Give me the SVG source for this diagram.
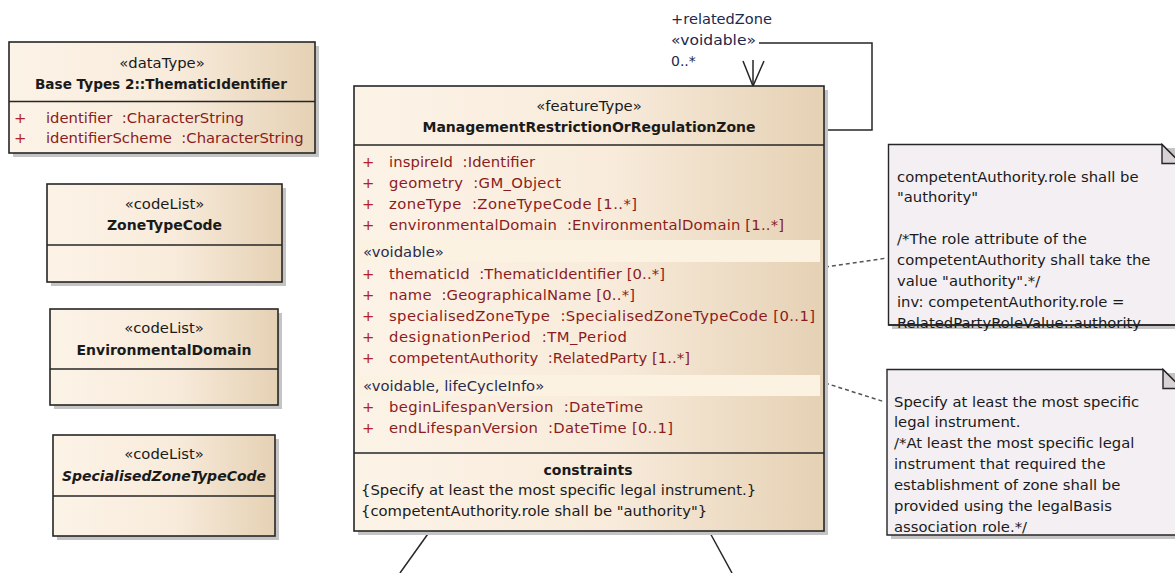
<svg xmlns="http://www.w3.org/2000/svg" width="1175" height="573" viewBox="0 0 1175 573">
<defs>
<linearGradient id="cls" x1="0" y1="0" x2="1" y2="0">
<stop offset="0" stop-color="#fcf3e7"/>
<stop offset="0.55" stop-color="#f8ebdb"/>
<stop offset="1" stop-color="#e5d1b4"/>
</linearGradient>
<style>
.sh{fill:#c4c4c4}
.box{fill:url(#cls);stroke:#262626;stroke-width:1.6}
.dv{stroke:#262626;stroke-width:1.6;fill:none}
.note{fill:#f3eff3;stroke:#262626;stroke-width:1.4}
.fold{fill:#d6d2d6;stroke:#262626;stroke-width:1.4}
.bar{fill:#fcf2e2}
text{font-family:"DejaVu Sans",sans-serif;font-size:14.8px;fill:#1a1a1a;white-space:pre}
.c{text-anchor:middle}
.b{font-weight:bold;font-size:14px}
.i{font-style:italic}
.at{fill:#8b1c1c}
.pl{fill:#b42222}
.sv{fill:#2a2a4e}
.lb{font-size:14px;fill:#22284a}
.cn{stroke:#262626;stroke-width:1.5;fill:none}
.dash{stroke:#555;stroke-width:1.5;stroke-dasharray:4 3;fill:none}
</style>
</defs>

<g id="connectors">
<path class="cn" d="M824,130 H872 V43 H759"/>
<path class="cn" d="M753,60 V86"/>
<path class="cn" d="M743,61 L753,86 L764,61"/>
<text class="lb" x="671" y="24" textLength="101" lengthAdjust="spacingAndGlyphs">+relatedZone</text>
<text class="lb" x="671" y="45" textLength="85" lengthAdjust="spacingAndGlyphs">«voidable»</text>
<text class="lb" x="671" y="66">0..*</text>
<path class="dash" d="M825,267 L887,258"/>
<path class="dash" d="M825,383 L885,402"/>
<path class="cn" d="M430,531 L400,573"/>
<path class="cn" d="M709,531 L732,573"/>
</g>

<g id="ThematicIdentifier">
<rect class="sh" x="13" y="46" width="306" height="111"/>
<rect class="box" x="9" y="42" width="306" height="111"/>
<line class="dv" x1="9" y1="101.5" x2="315" y2="101.5"/>
<text class="c" x="162" y="68">«dataType»</text>
<text class="c b" x="161" y="88.5" textLength="252" lengthAdjust="spacingAndGlyphs">Base Types 2::ThematicIdentifier</text>
<text class="pl" x="14" y="123">+</text>
<text class="at" x="46" y="123">identifier  :CharacterString</text>
<text class="pl" x="14" y="143">+</text>
<text class="at" x="46" y="143">identifierScheme  :CharacterString</text>
</g>

<g id="ZoneTypeCode">
<rect class="sh" x="51" y="188" width="235" height="98"/>
<rect class="box" x="47" y="184" width="235" height="98"/>
<line class="dv" x1="47" y1="245" x2="282" y2="245"/>
<text class="c" x="164.5" y="209">«codeList»</text>
<text class="c b" x="164.5" y="230">ZoneTypeCode</text>
</g>

<g id="EnvironmentalDomain">
<rect class="sh" x="54" y="313" width="228" height="96"/>
<rect class="box" x="50" y="309" width="228" height="96"/>
<line class="dv" x1="50" y1="369" x2="278" y2="369"/>
<text class="c" x="164" y="333">«codeList»</text>
<text class="c b" x="164" y="355">EnvironmentalDomain</text>
</g>

<g id="SpecialisedZoneTypeCode">
<rect class="sh" x="57" y="439" width="222" height="101"/>
<rect class="box" x="53" y="435" width="222" height="101"/>
<line class="dv" x1="53" y1="496" x2="275" y2="496"/>
<text class="c" x="164" y="459">«codeList»</text>
<text class="c b i" x="164" y="481">SpecialisedZoneTypeCode</text>
</g>

<g id="ManagementRestrictionOrRegulationZone">
<rect class="sh" x="358" y="90" width="470" height="445"/>
<rect class="box" x="354" y="86" width="470" height="445"/>
<line class="dv" x1="354" y1="145" x2="824" y2="145"/>
<line class="dv" x1="354" y1="453" x2="824" y2="453"/>
<text class="c" x="589" y="111">«featureType»</text>
<text class="c b" x="589" y="132">ManagementRestrictionOrRegulationZone</text>
<rect class="bar" x="358" y="240" width="462" height="22"/>
<rect class="bar" x="358" y="375" width="462" height="21"/>
<text class="pl" x="362" y="167">+</text>
<text class="at" x="389" y="167" textLength="146" lengthAdjust="spacing">inspireId  :Identifier</text>
<text class="pl" x="362" y="188">+</text>
<text class="at" x="389" y="188" textLength="172" lengthAdjust="spacing">geometry  :GM_Object</text>
<text class="pl" x="362" y="209">+</text>
<text class="at" x="389" y="209" textLength="248" lengthAdjust="spacing">zoneType  :ZoneTypeCode [1..*]</text>
<text class="pl" x="362" y="230">+</text>
<text class="at" x="389" y="230" textLength="395" lengthAdjust="spacing">environmentalDomain  :EnvironmentalDomain [1..*]</text>
<text class="sv" x="363" y="257">«voidable»</text>
<text class="pl" x="362" y="279">+</text>
<text class="at" x="389" y="279" textLength="276" lengthAdjust="spacing">thematicId  :ThematicIdentifier [0..*]</text>
<text class="pl" x="362" y="300">+</text>
<text class="at" x="389" y="300" textLength="246" lengthAdjust="spacing">name  :GeographicalName [0..*]</text>
<text class="pl" x="362" y="321">+</text>
<text class="at" x="389" y="321" textLength="426" lengthAdjust="spacing">specialisedZoneType  :SpecialisedZoneTypeCode [0..1]</text>
<text class="pl" x="362" y="342">+</text>
<text class="at" x="389" y="342" textLength="238" lengthAdjust="spacing">designationPeriod  :TM_Period</text>
<text class="pl" x="362" y="363">+</text>
<text class="at" x="389" y="363" textLength="301" lengthAdjust="spacing">competentAuthority  :RelatedParty [1..*]</text>
<text class="sv" x="363" y="391">«voidable, lifeCycleInfo»</text>
<text class="pl" x="362" y="412">+</text>
<text class="at" x="389" y="412" textLength="254" lengthAdjust="spacing">beginLifespanVersion  :DateTime</text>
<text class="pl" x="362" y="433">+</text>
<text class="at" x="389" y="433" textLength="284" lengthAdjust="spacing">endLifespanVersion  :DateTime [0..1]</text>
<text class="c b" x="588" y="475">constraints</text>
<text x="361" y="495">{Specify at least the most specific legal instrument.}</text>
<text x="361" y="516">{competentAuthority.role shall be "authority"}</text>
</g>

<g id="note-competentAuthority">
<rect class="sh" x="892" y="148" width="290" height="181"/>
<path class="note" d="M888.5,144.5 H1162 L1181,163.5 V325 H888.5 Z"/>
<path class="fold" d="M1162,144.5 V163.5 H1181 Z"/>
<text x="897" y="182">competentAuthority.role shall be</text>
<text x="897" y="202">"authority"</text>
<text x="897" y="244">/*The role attribute of the</text>
<text x="897" y="265">competentAuthority shall take the</text>
<text x="897" y="286">value "authority".*/</text>
<text x="897" y="307">inv: competentAuthority.role =</text>
<text x="897" y="328">RelatedPartyRoleValue::authority</text>
<line class="dv" x1="888.5" y1="325" x2="1181" y2="325" stroke-width="1.4"/>
</g>

<g id="note-legalInstrument">
<rect class="sh" x="891" y="373" width="290" height="166"/>
<path class="note" d="M887,369.5 H1163 L1182,388.5 V535 H887 Z"/>
<path class="fold" d="M1163,369.5 V388.5 H1182 Z"/>
<text x="894" y="407">Specify at least the most specific</text>
<text x="894" y="427">legal instrument.</text>
<text x="894" y="448">/*At least the most specific legal</text>
<text x="894" y="469">instrument that required the</text>
<text x="894" y="490">establishment of zone shall be</text>
<text x="894" y="511">provided using the legalBasis</text>
<text x="894" y="532">association role.*/</text>
</g>
</svg>
